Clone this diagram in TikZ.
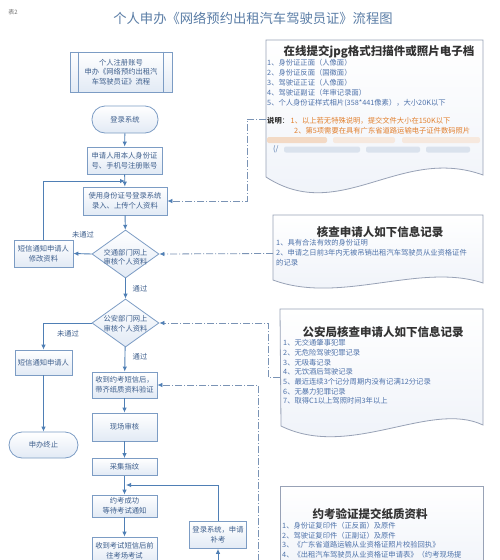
\documentclass[tikz,border=0pt]{standalone}
\usepackage{fontspec}
\setmainfont{Noto Sans CJK SC}
\usetikzlibrary{arrows.meta,shapes.geometric,calc}
\definecolor{ln}{HTML}{4F7FB5}
\definecolor{bx}{HTML}{7C9CC4}
\definecolor{bxfill}{HTML}{E2EAF5}
\definecolor{tx}{HTML}{3D5E8C}
\definecolor{ttl}{HTML}{5A7DA6}
\definecolor{docln}{HTML}{98A2B6}
\definecolor{docfill}{HTML}{EDF1F8}
\definecolor{item}{HTML}{4E72AA}
\definecolor{org}{HTML}{E2802E}
\definecolor{dsh}{HTML}{7A93B5}
\begin{document}
\begin{tikzpicture}[x=1pt,y=-1pt,
  box/.style={draw=bx, line width=0.8pt, top color=white, bottom color=bxfill, text=tx,
    font=\fontsize{7.3}{9.6}\selectfont, align=center, inner sep=0pt},
  term/.style={box, rounded corners=13pt},
  dia/.style={draw=bx, line width=0.8pt, top color=white, bottom color=bxfill, diamond, inner sep=0pt},
  ftxt/.style={text=tx, font=\fontsize{7.3}{9.6}\selectfont, align=center, inner sep=0pt},
  arr/.style={draw=ln, line width=0.9pt, -{Latex[length=5pt,width=4.5pt]}},
  dconn/.style={draw=dsh, line width=0.8pt, dash pattern=on 7pt off 2pt on 1pt off 2pt,
    -{Latex[length=5pt,width=4.5pt,fill=ln,color=ln]}},
  docshape/.style={draw=docln, line width=0.8pt, top color=white, bottom color=docfill},
  dtitle/.style={font=\fontsize{11.5}{13}\selectfont\bfseries, text=black!80, inner sep=0pt},
  ditem/.style={font=\fontsize{7.3}{9.6}\selectfont, text=item, anchor=west, inner sep=0pt},
  lbl/.style={font=\fontsize{7.3}{9}\selectfont, text=tx, inner sep=0pt}
]
\useasboundingbox (0,0) rectangle (500,560);
\clip (0,0) rectangle (500,560);
\fill[white] (0,0) rectangle (500,560);

% titles
\node[font=\fontsize{6}{7}\selectfont, text=black!55, inner sep=0pt] (biao) at (13,12) {表2};
\node[font=\fontsize{13.3}{15}\selectfont, text=ttl, inner sep=0pt] (title) at (253,18) {个人申办《网络预约出租汽车驾驶员证》流程图};

% ---------- right documents ----------
\path[docshape] (266,40) -- (483,40) -- (483,175) .. controls (400,145) and (340,225) .. (266,177) -- cycle;
\node[dtitle] (doc1t) at (379,52) {在线提交jpg格式扫描件或照片电子档};
\node[ditem] (doc1a) at (267,63) {1、身份证正面（人像面）};
\node[ditem] (doc1b) at (267,73) {2、身份证反面（国徽面）};
\node[ditem] (doc1c) at (267,83) {3、驾驶证正证（人像面）};
\node[ditem] (doc1d) at (267,93) {4、驾驶证副证（年审记录面）};
\node[ditem] (doc1e) at (267,103) {5、个人身份证样式相片(358*441像素），大小20K以下};
\node[ditem, text=black!80] (doc1f) at (267,121) {\textbf{说明}：\ \textcolor{org}{1、以上若无特殊说明，提交文件大小在150K以下}};
\node[ditem, text=org] (doc1g) at (294,130.5) {2、第5项需要在具有广东省道路运输电子证件数码照片};
\fill[org!45, opacity=.6, rounded corners=2pt] (267,137) rectangle (327,143);
\fill[org!25, opacity=.6, rounded corners=2pt] (333,137) rectangle (395,143);
\fill[org!25, opacity=.6, rounded corners=2pt] (402,137) rectangle (480,143);
\node[ditem] (doc1h) at (273,149.5) {(/};
\fill[item!30, opacity=.6, rounded corners=2pt] (284,146.5) rectangle (360,152.5);
\fill[item!30, opacity=.6, rounded corners=2pt] (366,146.5) rectangle (420,152.5);
\fill[item!30, opacity=.6, rounded corners=2pt] (426,146.5) rectangle (470,152.5);
\coordinate (doc1p) at (266,119);

\path[docshape] (273,215) -- (483,215) -- (483,283) .. controls (420,262) and (340,305) .. (273,280) -- cycle;
\node[dtitle] (doc2t) at (380,232) {核查申请人如下信息记录};
\node[ditem] (doc2a) at (276,243) {1、具有合法有效的身份证明};
\node[ditem] (doc2b) at (276,253) {2、申请之日前3年内无被吊销出租汽车驾驶员从业资格证件};
\node[ditem] (doc2c) at (276,262.6) {的记录};
\coordinate (doc2p) at (273,253.5);

\path[docshape] (280,309) -- (483,309) -- (483,425) .. controls (430,400) and (350,460) .. (281,426) -- cycle;
\node[dtitle] (doc3t) at (383,332) {公安局核查申请人如下信息记录};
\node[ditem] (doc3a) at (283,343) {1、无交通肇事犯罪};
\node[ditem] (doc3b) at (283,352.7) {2、无危险驾驶犯罪记录};
\node[ditem] (doc3c) at (283,362.4) {3、无吸毒记录};
\node[ditem] (doc3d) at (283,372.1) {4、无饮酒后驾驶记录};
\node[ditem] (doc3e) at (283,381.8) {5、最近连续3个记分周期内没有记满12分记录};
\node[ditem] (doc3f) at (283,391.5) {6、无暴力犯罪记录};
\node[ditem] (doc3g) at (283,401.2) {7、取得C1以上驾照时间3年以上};
\coordinate (doc3p) at (280,377);

\path[docshape] (280,486) rectangle (483,590);
\node[dtitle] (doc4t) at (370,514) {约考验证提交纸质资料};
\node[ditem] (doc4a) at (282,526) {1、身份证复印件（正反面）及原件};
\node[ditem] (doc4b) at (282,535.6) {2、驾驶证复印件（正副证）及原件};
\node[ditem] (doc4c) at (282,545.2) {3、《广东省道路运输从业资格证照片校验回执》};
\node[ditem] (doc4d) at (282,554.8) {4、《出租汽车驾驶员从业资格证申请表》（约考现场提};
\coordinate (doc4p) at (280,575);

% ---------- flow column ----------
\node[box, minimum width=102pt, minimum height=40pt] (b1) at (121,72) {个人注册账号\\申办《网络预约出租汽\\车驾驶员证》流程};
\draw[draw=bx, line width=.8pt] ([xshift=9pt]b1.north west) -- ([xshift=9pt]b1.south west);
\draw[draw=bx, line width=.8pt] ([xshift=-9pt]b1.north east) -- ([xshift=-9pt]b1.south east);

\node[term, minimum width=66pt, minimum height=27pt] (t1) at (125,119.5) {登录系统};
\node[box, minimum width=75pt, minimum height=27pt] (b2) at (124.5,160.5) {申请人用本人身份证\\号、手机号注册账号};
\node[box, minimum width=84pt, minimum height=28pt] (b3) at (125,201) {使用身份证号登录系统\\录入、上传个人资料};
\node[dia, minimum width=67pt, minimum height=48pt] (d1) at (125.5,254) {};
\node[ftxt] (d1t) at (125.5,257) {交通部门网上\\审核个人资料};
\node[box, minimum width=59pt, minimum height=27pt] (b4) at (43.5,253.5) {短信通知申请人\\修改资料};
\node[dia, minimum width=67pt, minimum height=48pt] (d2) at (125.5,323) {};
\node[ftxt] (d2t) at (125.5,324) {公安部门网上\\审核个人资料};
\node[box, minimum width=57pt, minimum height=25pt] (b5) at (43.5,362.5) {短信通知申请人};
\node[term, minimum width=69pt, minimum height=26pt] (t2) at (43.5,445) {申办终止};
\node[box, minimum width=65pt, minimum height=26pt] (b6) at (124.5,385) {收到约考短信后，\\带齐纸质资料验证};
\node[box, minimum width=65pt, minimum height=28pt] (b7) at (124.5,427) {现场审核};
\node[box, minimum width=65pt, minimum height=17pt] (b8) at (124.5,467) {采集指纹};
\node[box, minimum width=65pt, minimum height=22pt] (b9) at (124.5,506) {约考成功\\等待考试通知};
\node[box, minimum width=65pt, minimum height=27pt] (b10) at (124.5,550.5) {收到考试短信后前\\往考场考试};
\node[box, minimum width=57pt, minimum height=27pt] (b11) at (218,535) {登录系统，申请\\补考};

\coordinate (m1) at (125,181);
\coordinate (m2) at (126,485);
\coordinate (m3) at (218,575);

% connectors
\draw[arr] (t1) -- (b2);
\draw[arr] (b2) -- (b3);
\draw[arr] (b3) -- (d1);
\draw[arr] (d1.west) -- (b4.east);
\node[lbl] (l1) at (83,235) {未通过};
\draw[arr] (d1) -- (d2);
\node[lbl] (l2) at (140,289) {通过};
\draw[arr] (d2.west) -| (b5.north);
\node[lbl] (l3) at (68,334) {未通过};
\draw[arr] (d2) -- (b6);
\node[lbl] (l4) at (140,357) {通过};
\draw[arr] (b5) -- (t2);
\draw[arr] (b6) -- (b7);
\draw[arr] (b7) -- (b8);
\draw[arr] (b8) -- (b9);
\draw[arr] (b9) -- (b10);
\draw[arr] (b4.north) |- (m1);
\draw[arr] (b11.north) |- (m2);
\draw[arr] (m3) -- (b11.south);

% dashed connectors from documents
\draw[dconn] (doc1p) -- (247,119) -- (247,201) -- (b3.east);
\draw[dconn] (doc2p) -- (d1.east);
\draw[dconn] (doc3p) -- (268,377) -- (268,323) -- (d2.east);
\draw[dconn] (doc4p) -- (258,575) -- (258,385) -- (b6.east);
\end{tikzpicture}
\end{document}
